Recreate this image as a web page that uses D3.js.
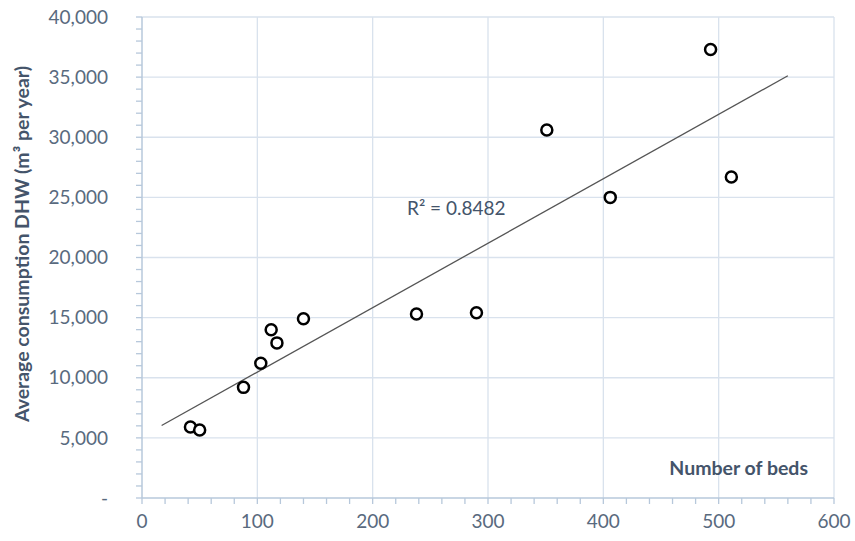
<!DOCTYPE html>
<html>
<head>
<meta charset="utf-8">
<script src="https://cdn.jsdelivr.net/npm/d3@7"></script>
<style>
  html, body { margin: 0; padding: 0; background: #ffffff; }
  svg { display: block; }
</style>
</head>
<body>
<svg id="chart" width="855" height="541"></svg>
<script>
// ---- data ----
const beds = [42, 50, 88, 103, 112, 117, 140, 238, 290, 351, 406, 493, 511];
const consumption = [5900, 5650, 9200, 11200, 14000, 12900, 14900, 15300, 15400, 30600, 25000, 37300, 26700];
const xTicks = [0, 100, 200, 300, 400, 500, 600];
const yTicks = [0, 5000, 10000, 15000, 20000, 25000, 30000, 35000, 40000];
const trendRange = [17, 560];
const r2Label = "R² = 0.8482";
const xTitle = "Number of beds";
const yTitle = "Average consumption DHW (m³ per year)";

(function () {
// ---- layout ----
const svg = d3.select("#chart");
const pLeft = 142, pRight = 834, pTop = 17, pBottom = 498;
const x = d3.scaleLinear().domain([0, 600]).range([pLeft, pRight]);
const y = d3.scaleLinear().domain([0, 40000]).range([pBottom, pTop]);

const gridColor = "#d9e2ed";
const axisColor = "#b7c8db";
const textColor = "#596a7e";
const titleColor = "#44546a";
const font = "Lato, 'Open Sans', sans-serif";

// gridlines
svg.append("g").selectAll("line").data(xTicks.slice(1)).join("line")
  .attr("x1", d => x(d)).attr("x2", d => x(d))
  .attr("y1", pTop).attr("y2", pBottom)
  .attr("stroke", gridColor).attr("stroke-width", 1.3);
svg.append("g").selectAll("line").data(yTicks.slice(1)).join("line")
  .attr("x1", pLeft).attr("x2", pRight)
  .attr("y1", d => y(d)).attr("y2", d => y(d))
  .attr("stroke", gridColor).attr("stroke-width", 1.3);

// minor ticks
const xMinor = d3.range(0, 601, 20);
const yMinor = d3.range(0, 40001, 1000);
svg.append("g").selectAll("line").data(xMinor).join("line")
  .attr("x1", d => x(d)).attr("x2", d => x(d))
  .attr("y1", pBottom).attr("y2", pBottom + 6)
  .attr("stroke", axisColor).attr("stroke-width", 1.3);
svg.append("g").selectAll("line").data(yMinor).join("line")
  .attr("x1", pLeft - 6).attr("x2", pLeft)
  .attr("y1", d => y(d)).attr("y2", d => y(d))
  .attr("stroke", axisColor).attr("stroke-width", 1.3);

// axes lines
svg.append("line").attr("x1", pLeft).attr("x2", pRight).attr("y1", pBottom).attr("y2", pBottom)
  .attr("stroke", axisColor).attr("stroke-width", 1.5);
svg.append("line").attr("x1", pLeft).attr("x2", pLeft).attr("y1", pTop).attr("y2", pBottom)
  .attr("stroke", axisColor).attr("stroke-width", 1.5);

// tick labels
const fmt = d3.format(",");
svg.append("g").selectAll("text").data(yTicks).join("text")
  .attr("x", 108).attr("y", d => y(d))
  .attr("dy", "0.35em")
  .attr("text-anchor", "end")
  .attr("font-family", font).attr("font-size", 19)
  .attr("fill", textColor)
  .text(d => d === 0 ? "-" : fmt(d));
svg.append("g").selectAll("text").data(xTicks).join("text")
  .attr("x", d => x(d)).attr("y", 521)
  .attr("dy", "0.35em")
  .attr("text-anchor", "middle")
  .attr("font-family", font).attr("font-size", 19)
  .attr("fill", textColor)
  .text(d => d);

// trendline (least squares from data)
const n = beds.length;
const mx = d3.mean(beds), my = d3.mean(consumption);
let sxy = 0, sxx = 0;
for (let i = 0; i < n; i++) { sxy += (beds[i] - mx) * (consumption[i] - my); sxx += (beds[i] - mx) ** 2; }
const slope = sxy / sxx, intercept = my - slope * mx;
svg.append("line")
  .attr("x1", x(trendRange[0])).attr("y1", y(intercept + slope * trendRange[0]))
  .attr("x2", x(trendRange[1])).attr("y2", y(intercept + slope * trendRange[1]))
  .attr("stroke", "#555555").attr("stroke-width", 1.3);

// points
svg.append("g").selectAll("circle").data(beds.map((b, i) => [b, consumption[i]])).join("circle")
  .attr("cx", d => x(d[0])).attr("cy", d => y(d[1]))
  .attr("r", 5.5)
  .attr("fill", "#ffffff").attr("stroke", "#000000").attr("stroke-width", 2.5);

// R² label
svg.append("text").attr("x", 407).attr("y", 208).attr("dy", "0.35em")
  .attr("font-family", font).attr("font-size", 19).attr("fill", titleColor)
  .text(r2Label);

// axis titles
svg.append("text").attr("x", 808).attr("y", 468).attr("dy", "0.35em")
  .attr("text-anchor", "end")
  .attr("font-family", font).attr("font-size", 19.5).attr("font-weight", "bold")
  .attr("fill", titleColor).text(xTitle);
svg.append("text")
  .attr("transform", "translate(22,244) rotate(-90)")
  .attr("dy", "0.35em")
  .attr("text-anchor", "middle")
  .attr("font-family", font).attr("font-size", 19.5).attr("font-weight", "bold")
  .attr("fill", titleColor).text(yTitle);
})();
</script>
</body>
</html>
